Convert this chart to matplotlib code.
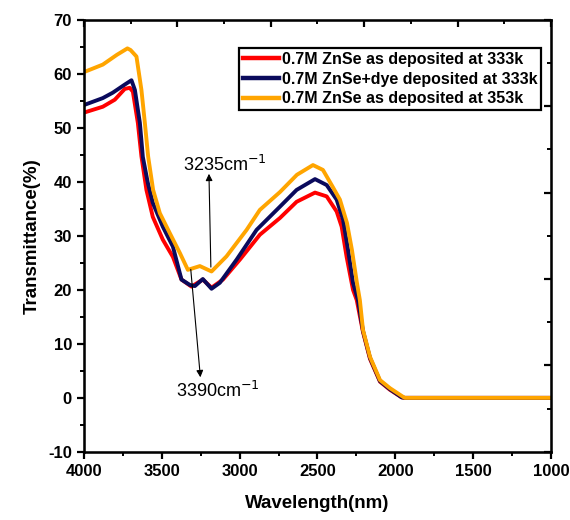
import matplotlib
matplotlib.use("Agg")
import matplotlib.pyplot as plt
from matplotlib.ticker import MultipleLocator, FixedLocator

plt.rcParams['font.family'] = ['Liberation Sans', 'DejaVu Sans']
plt.rcParams['axes.unicode_minus'] = False

# ---- data ----
wl_red = [4000, 3878, 3801, 3737, 3705, 3685, 3653, 3630, 3598, 3557, 3493, 3428, 3373,
          3309, 3236, 3180, 3107, 2998, 2870, 2741, 2634, 2516, 2441, 2377, 2345, 2313,
          2272, 2248, 2208, 2163, 2099, 2035, 1960, 1940, 1000]
t_red = [52.8, 53.9, 55.2, 57.2, 57.4, 56.7, 50.9, 44.7, 38.5, 33.5, 29.3, 26.1, 21.9,
         20.6, 21.9, 20.4, 21.9, 25.6, 30.2, 33.3, 36.3, 38.0, 37.3, 34.5, 31.7, 26.1,
         20.0, 18.1, 12.2, 7.2, 3.0, 1.5, 0.1, 0.0, 0.0]

wl_navy = [4000, 3878, 3814, 3737, 3694, 3672, 3640, 3621, 3589, 3557, 3493, 3428, 3373,
           3319, 3287, 3236, 3180, 3127, 3019, 2891, 2741, 2634, 2516, 2441, 2377, 2336,
           2304, 2272, 2240, 2208, 2163, 2099, 2035, 1960, 1940, 1000]
t_navy = [54.2, 55.5, 56.5, 58.0, 58.8, 57.0, 50.9, 44.6, 39.8, 36.1, 31.7, 28.0, 21.9,
          20.9, 20.7, 22.0, 20.2, 21.3, 25.6, 31.1, 35.4, 38.5, 40.5, 39.4, 36.7, 33.0,
          27.4, 21.3, 18.1, 12.4, 7.4, 3.1, 1.6, 0.1, 0.0, 0.0]

wl_yel = [4000, 3878, 3788, 3720, 3700, 3662, 3630, 3608, 3587, 3555, 3512, 3448, 3383,
          3332, 3255, 3180, 3084, 2955, 2870, 2741, 2632, 2529, 2465, 2401, 2356, 2311,
          2279, 2247, 2228, 2208, 2163, 2099, 2035, 1951, 1940, 1000]
t_yel = [60.3, 61.7, 63.5, 64.7, 64.4, 63.2, 57.0, 50.9, 44.7, 38.5, 34.2, 30.5, 26.8,
         23.7, 24.4, 23.4, 26.2, 31.1, 34.8, 38.1, 41.3, 43.1, 42.2, 39.0, 36.7, 32.4,
         27.4, 21.3, 18.1, 12.6, 7.6, 3.3, 1.8, 0.2, 0.0, 0.0]

labels = ['0.7M ZnSe as deposited at 333k',
          '0.7M ZnSe+dye deposited at 333k',
          '0.7M ZnSe as deposited at 353k']
colors = ['#FF0000', '#0A0A5C', '#FFA500']

fig = plt.figure(figsize=(5.7, 5.2), dpi=100)
ax = fig.add_axes([0.147, 0.131, 0.820, 0.831])

for wl, t, lab, c in zip([wl_red, wl_navy, wl_yel], [t_red, t_navy, t_yel], labels, colors):
    ax.plot(wl, t, color=c, lw=2.8, label=lab, solid_joinstyle='round')

ax.set_xlim(4000, 1000)
ax.set_ylim(-10, 70)
ax.xaxis.set_major_locator(MultipleLocator(500))
ax.xaxis.set_minor_locator(MultipleLocator(250))
ax.yaxis.set_major_locator(MultipleLocator(10))
ax.yaxis.set_minor_locator(MultipleLocator(5))
ax.tick_params(which='major', direction='out', length=5, width=1.6, labelsize=12)
ax.tick_params(which='minor', direction='out', length=3, width=1.4)
for lab in ax.get_xticklabels() + ax.get_yticklabels():
    lab.set_fontweight('bold')
for s in ax.spines.values():
    s.set_linewidth(1.8)

# top / right decorative ticks (inward)
axt = ax.twiny()
axt.set_xlim(4000, 1000)
axt.xaxis.set_major_locator(FixedLocator([4000, 3400, 2800, 2200, 1600, 1000]))
axt.xaxis.set_minor_locator(FixedLocator([3700, 3100, 2500, 1900, 1300]))
axt.tick_params(which='major', direction='in', length=5, width=1.6, labeltop=False)
axt.tick_params(which='minor', direction='in', length=3, width=1.4)
axr = ax.twinx()
axr.set_ylim(-10, 70)
axr.yaxis.set_major_locator(FixedLocator([-10, 6, 22, 38, 54, 70]))
axr.yaxis.set_minor_locator(FixedLocator([-2, 14, 30, 46, 62]))
axr.tick_params(which='major', direction='in', length=5, width=1.6, labelright=False)
axr.tick_params(which='minor', direction='in', length=3, width=1.4)

ax.set_xlabel('Wavelength(nm)', fontsize=13.5, fontweight='bold', labelpad=12)
ax.set_ylabel('Transmittance(%)', fontsize=13.5, fontweight='bold', labelpad=5)

leg = axr.legend(*ax.get_legend_handles_labels(),
                 loc='upper right', bbox_to_anchor=(0.979, 0.935), frameon=True,
                 fancybox=False, edgecolor='black', borderpad=0.25, handlelength=2.3,
                 handletextpad=0.15, labelspacing=0.3, borderaxespad=0,
                 prop={'weight': 'bold', 'size': 11.5})
leg.get_frame().set_linewidth(1.6)
leg.get_frame().set_alpha(1)
for h in leg.get_lines():
    h.set_linewidth(3.2)

# annotations
ax.annotate('', xy=(3197, 42.0), xytext=(3184, 23.7),
            arrowprops=dict(arrowstyle='-|>', color='black', lw=0.8, mutation_scale=10))
ax.text(3094, 43.1, '3235cm$^{-1}$', fontsize=13, ha='center', va='center')
ax.annotate('', xy=(3250, 3.3), xytext=(3315, 24.3),
            arrowprops=dict(arrowstyle='-|>', color='black', lw=0.8, mutation_scale=10))
ax.text(3139, 1.3, '3390cm$^{-1}$', fontsize=13, ha='center', va='center')

fig.savefig('out.png', dpi=100)
